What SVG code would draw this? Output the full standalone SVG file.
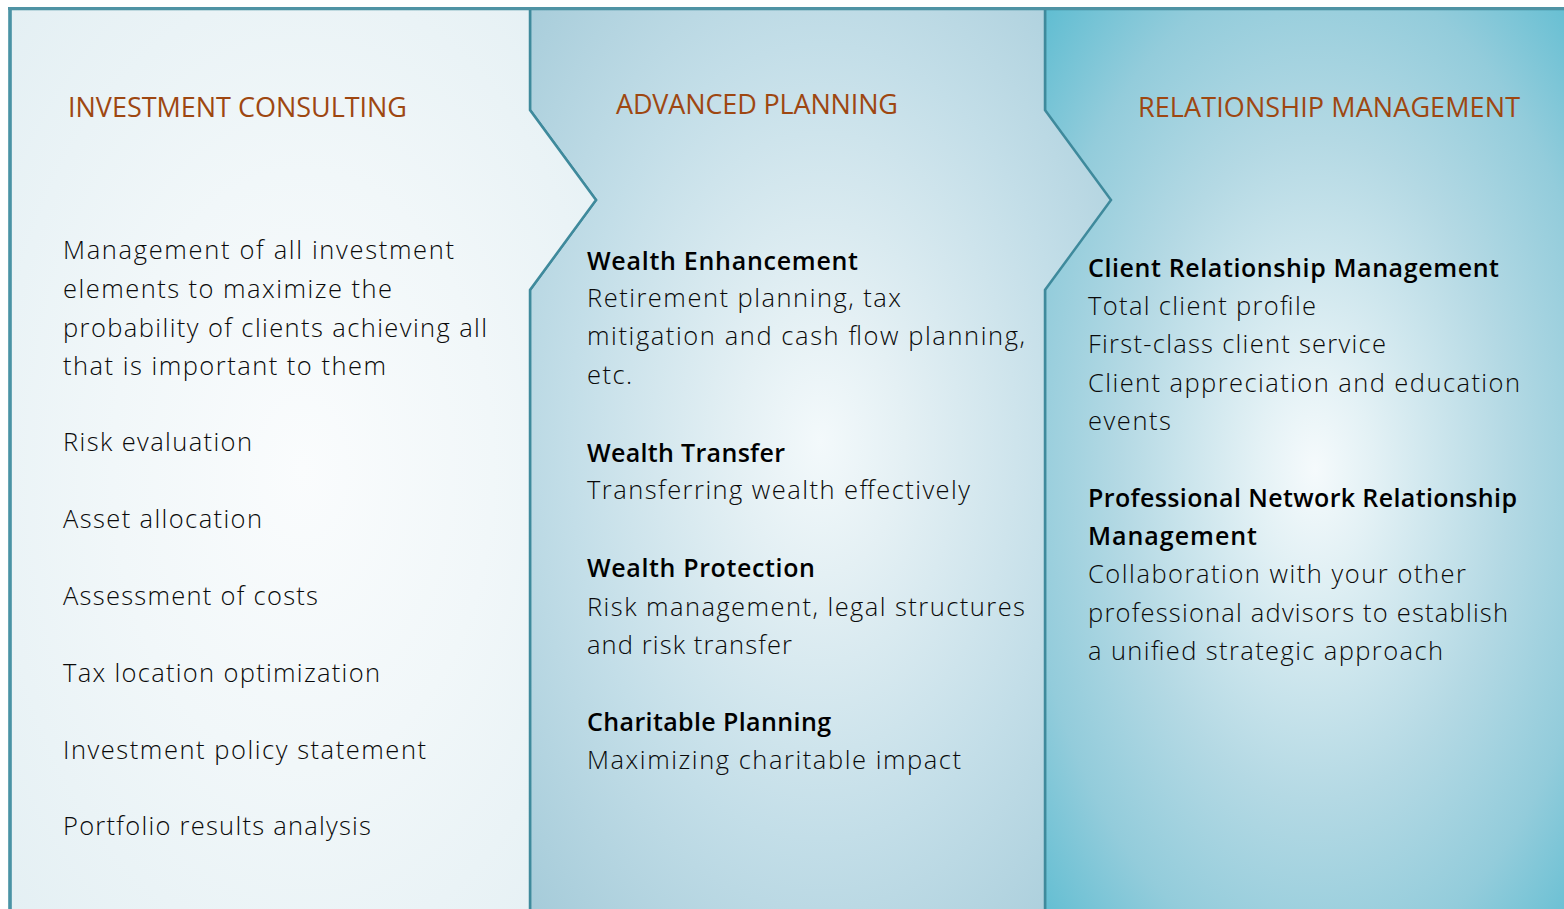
<svg xmlns="http://www.w3.org/2000/svg" width="1564" height="909" viewBox="0 0 1564 909">
  <defs>
    <radialGradient id="gradLeft" cx="0.5" cy="0.5" r="0.72">
      <stop offset="0" stop-color="#fafcfd"/>
      <stop offset="0.45" stop-color="#f1f7f9"/>
      <stop offset="1" stop-color="#e3eff3"/>
    </radialGradient>
    <radialGradient id="gradMid" cx="0.5" cy="0.47" r="0.72">
      <stop offset="0" stop-color="#f3f9fb"/>
      <stop offset="0.2" stop-color="#e4f0f4"/>
      <stop offset="0.6" stop-color="#c3dee8"/>
      <stop offset="1" stop-color="#a5cbd9"/>
    </radialGradient>
    <radialGradient id="gradRight" cx="0.5" cy="0.5" r="0.72">
      <stop offset="0" stop-color="#f5fafc"/>
      <stop offset="0.15" stop-color="#e3f1f5"/>
      <stop offset="0.5" stop-color="#b4d9e4"/>
      <stop offset="0.75" stop-color="#93ccdb"/>
      <stop offset="1" stop-color="#5cbcd1"/>
    </radialGradient>
    <style>
      .panel { stroke: #3f8a9c; stroke-width: 2.5; stroke-linejoin: miter; }
      .title { font-family: "Open Sans", "Liberation Sans", sans-serif; font-size: 27px; fill: #9e4711; }
      .head { font-family: "Open Sans", "Liberation Sans", sans-serif; font-size: 25px; font-weight: 600; fill: #000000; }
      .body { font-family: "Open Sans", "Liberation Sans", sans-serif; font-size: 25.5px; font-weight: 300; fill: #0a0a0a; }
    </style>
  </defs>

  <rect x="0" y="0" width="1564" height="909" fill="#ffffff"/>

  <!-- panels, back to front -->
  <g id="panel-relationship">
    <rect class="panel" x="1045" y="9" width="540" height="920" fill="url(#gradRight)"/>
  </g>
  <g id="panel-advanced">
    <polygon class="panel" fill="url(#gradMid)"
      points="530,9 1045,9 1045,110 1111,200 1045,290 1045,929 530,929 530,290 596,200 530,110"/>
  </g>
  <g id="panel-investment">
    <polygon class="panel" fill="url(#gradLeft)"
      points="10,9 530,9 530,110 596,200 530,290 530,929 10,929"/>
    <line x1="10" y1="9" x2="10" y2="909" stroke="#4a93a5" stroke-width="3.5"/>
  </g>
  <line x1="8" y1="8.5" x2="1564" y2="8.5" stroke="#4f93a4" stroke-width="3"/>

  <!-- column texts -->
  <g id="col-investment">
    <text class="title" x="68" y="117" textLength="339">INVESTMENT CONSULTING</text>
    <text class="body" x="63" y="259" textLength="391">Management of all investment</text>
    <text class="body" x="63" y="298" textLength="329">elements to maximize the</text>
    <text class="body" x="63" y="337" textLength="424">probability of clients achieving all</text>
    <text class="body" x="63" y="375" textLength="323">that is important to them</text>
    <text class="body" x="63" y="451" textLength="189">Risk evaluation</text>
    <text class="body" x="63" y="528" textLength="199">Asset allocation</text>
    <text class="body" x="63" y="605" textLength="255">Assessment of costs</text>
    <text class="body" x="63" y="682" textLength="317">Tax location optimization</text>
    <text class="body" x="63" y="759" textLength="363">Investment policy statement</text>
    <text class="body" x="63" y="835" textLength="308">Portfolio results analysis</text>
  </g>

  <g id="col-advanced">
    <text class="title" x="616" y="114" textLength="282">ADVANCED PLANNING</text>
    <text class="head" x="587" y="270" textLength="271">Wealth Enhancement</text>
    <text class="body" x="587" y="307" textLength="314">Retirement planning, tax</text>
    <text class="body" x="587" y="345" textLength="438">mitigation and cash flow planning,</text>
    <text class="body" x="587" y="384" textLength="45">etc.</text>
    <text class="head" x="587" y="462" textLength="198">Wealth Transfer</text>
    <text class="body" x="587" y="499" textLength="383">Transferring wealth effectively</text>
    <text class="head" x="587" y="577" textLength="228">Wealth Protection</text>
    <text class="body" x="587" y="616" textLength="438">Risk management, legal structures</text>
    <text class="body" x="587" y="654" textLength="205">and risk transfer</text>
    <text class="head" x="587" y="731" textLength="244">Charitable Planning</text>
    <text class="body" x="587" y="769" textLength="374">Maximizing charitable impact</text>
  </g>

  <g id="col-relationship">
    <text class="title" x="1138" y="117" textLength="382">RELATIONSHIP MANAGEMENT</text>
    <text class="head" x="1088" y="277" textLength="411">Client Relationship Management</text>
    <text class="body" x="1088" y="315" textLength="228">Total client profile</text>
    <text class="body" x="1088" y="353" textLength="298">First-class client service</text>
    <text class="body" x="1088" y="392" textLength="432">Client appreciation and education</text>
    <text class="body" x="1088" y="430" textLength="83">events</text>
    <text class="head" x="1088" y="507" textLength="429">Professional Network Relationship</text>
    <text class="head" x="1088" y="545" textLength="169">Management</text>
    <text class="body" x="1088" y="583" textLength="378">Collaboration with your other</text>
    <text class="body" x="1088" y="622" textLength="420">professional advisors to establish</text>
    <text class="body" x="1088" y="660" textLength="355">a unified strategic approach</text>
  </g>
</svg>
